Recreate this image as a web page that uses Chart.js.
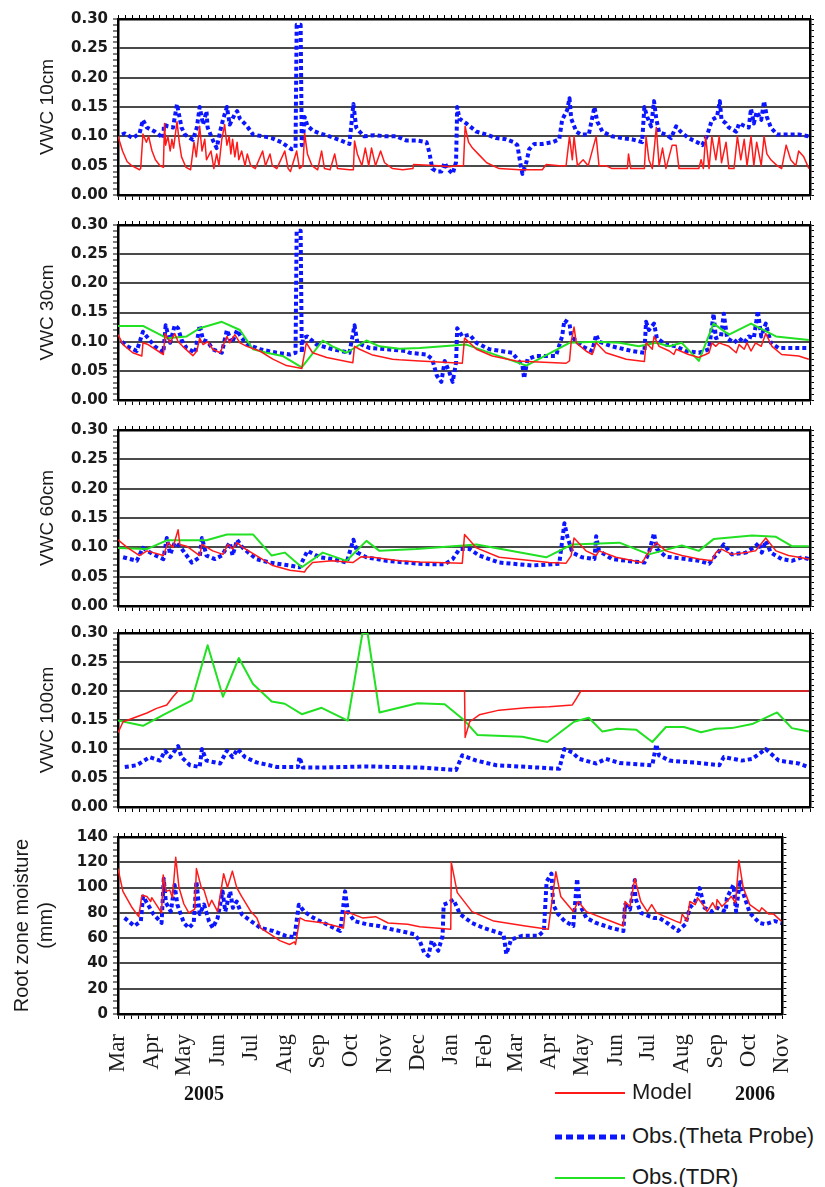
<!DOCTYPE html>
<html>
<head>
<meta charset="utf-8">
<title>Soil water content, 2005-2006</title>
<script src="https://cdn.jsdelivr.net/npm/chart.js@4.4.1/dist/chart.umd.min.js"></script>
<style>
  html, body { margin: 0; padding: 0; background: #fff; }
  #page { position: relative; width: 825px; height: 1187px; overflow: hidden; background: #fff; }
  #page canvas { position: absolute; left: 0; }
  .year { position: absolute; font: bold 20px "Liberation Serif", "Times New Roman", serif; color: #111; transform: translate(-50%, -50%); }
  .legRow { position: absolute; left: 0; width: 825px; height: 30px; }
  .legSwatch { position: absolute; left: 555px; width: 70px; top: 50%; transform: translateY(-50%); }
  .legText { position: absolute; left: 632px; top: 50%; transform: translateY(-52%); font: 22px "Liberation Sans", Arial, sans-serif; color: #1a1a1a; white-space: nowrap; }
</style>
</head>
<body>
<div id="page"></div>
<script>
// Days are counted from 1 March 2005.
const MONTHS = ['Mar','Apr','May','Jun','Jul','Aug','Sep','Oct','Nov','Dec','Jan','Feb','Mar','Apr','May','Jun','Jul','Aug','Sep','Oct','Nov'];
const MONTH_DAYS = [0,31,61,92,122,153,184,214,245,275,306,337,365,396,426,457,487,518,549,579,610];
const YEARS = ['2005', '2006'];
const SERIES_NAMES = ['Model', 'Obs.(Theta Probe)', 'Obs.(TDR)'];
const PANEL_TITLES = ['VWC 10cm', 'VWC 30cm', 'VWC 60cm', 'VWC 100cm', ['Root zone moisture', '(mm)']];

// 10 cm
const model10 = [[0,0.10],[4,0.075],[8,0.057],[12,0.05],[19,0.043],[20,0.045],[22,0.104],[25,0.09],[27,0.10],[30,0.075],[33,0.06],[37,0.05],[40,0.047],[41,0.122],[42,0.085],[44,0.10],[46,0.075],[47.5,0.095],[49,0.08],[52,0.125],[54,0.09],[56,0.065],[60,0.047],[64,0.043],[67,0.09],[69,0.065],[72,0.117],[74,0.075],[76.5,0.095],[78,0.06],[82,0.075],[84.5,0.045],[87,0.07],[89,0.05],[91.5,0.095],[94,0.12],[96,0.085],[98,0.10],[99.5,0.07],[101,0.095],[103,0.065],[105,0.09],[106.5,0.06],[109,0.075],[112,0.05],[114,0.07],[117,0.05],[121,0.045],[127.5,0.075],[130,0.05],[134,0.07],[136,0.05],[140,0.045],[147,0.075],[150,0.045],[152,0.04],[157.5,0.075],[160,0.045],[163,0.05],[164.5,0.105],[167,0.07],[171,0.05],[176,0.043],[179.5,0.075],[182,0.045],[187,0.043],[191,0.07],[193.5,0.045],[204,0.043],[207.5,0.043],[208.5,0.092],[211,0.07],[215,0.05],[218,0.08],[221,0.05],[223.5,0.08],[227,0.05],[231.5,0.075],[235,0.055],[242,0.045],[251,0.043],[260,0.045],[260.5,0.052],[283,0.05],[292,0.048],[298,0.05],[304.5,0.05],[306,0.117],[309,0.09],[312.5,0.08],[318.5,0.068],[325,0.055],[336,0.045],[354,0.043],[374,0.043],[377.5,0.052],[389,0.05],[395,0.05],[398,0.10],[400.5,0.06],[402,0.10],[405,0.05],[410,0.06],[414.5,0.05],[421.5,0.10],[424,0.05],[430,0.05],[435.5,0.045],[449,0.045],[450,0.07],[452,0.045],[464,0.045],[465.5,0.10],[468,0.06],[471,0.045],[474.5,0.115],[477,0.05],[480,0.08],[483,0.045],[488.5,0.085],[492,0.085],[494.5,0.045],[512,0.045],[514,0.06],[516,0.045],[518,0.10],[521,0.045],[523.5,0.10],[527,0.06],[530,0.10],[532,0.055],[536,0.09],[538.5,0.045],[543,0.045],[546,0.10],[549,0.06],[552,0.095],[554.5,0.05],[558,0.10],[560.5,0.05],[563,0.09],[567,0.05],[569.5,0.10],[572,0.07],[575.5,0.06],[581,0.05],[585,0.045],[589,0.085],[593,0.06],[597.5,0.05],[600,0.075],[604.5,0.065],[609,0.045]];
const theta10 = [[3.5,0.103],[6,0.105],[13,0.097],[19,0.105],[22,0.128],[25.5,0.115],[32.5,0.108],[40,0.097],[40.5,0.12],[44,0.117],[48.5,0.115],[52,0.155],[54,0.135],[56,0.115],[59,0.103],[66,0.094],[69.5,0.115],[72,0.15],[75,0.12],[78,0.143],[79,0.115],[83.5,0.094],[87,0.08],[90,0.108],[92.5,0.128],[96,0.15],[98.5,0.12],[103,0.138],[105,0.143],[107.5,0.13],[113.5,0.118],[119,0.103],[127.5,0.10],[135.5,0.097],[144,0.09],[153,0.078],[156.5,0.08],[157.5,0.29],[161,0.29],[162,0.085],[163.5,0.105],[164.5,0.133],[167,0.118],[171.5,0.11],[178,0.105],[186.5,0.10],[195,0.094],[204,0.087],[207.5,0.155],[210,0.115],[213,0.108],[217,0.10],[226,0.102],[236.5,0.10],[245.5,0.10],[254,0.093],[263,0.093],[272,0.09],[274.5,0.072],[277,0.045],[281,0.04],[285,0.04],[288,0.055],[290.5,0.045],[295,0.036],[298,0.056],[299,0.15],[301,0.13],[307,0.122],[316,0.108],[325,0.103],[333.5,0.097],[342,0.095],[349,0.09],[352,0.085],[354.5,0.056],[356.5,0.036],[360,0.056],[362.5,0.078],[367,0.087],[374,0.087],[383,0.09],[389,0.095],[391.5,0.128],[396,0.145],[398,0.165],[399.5,0.13],[404,0.108],[408,0.103],[415,0.103],[420,0.15],[422.5,0.125],[427,0.108],[435.5,0.10],[444.5,0.097],[453,0.095],[462,0.09],[464,0.15],[466.5,0.133],[470,0.117],[472.5,0.16],[474.5,0.13],[477,0.107],[483,0.103],[487.5,0.097],[492,0.117],[496,0.108],[503,0.097],[510.5,0.09],[515,0.085],[519,0.10],[523.5,0.128],[528,0.133],[530.5,0.16],[532,0.128],[536,0.122],[538.5,0.115],[545,0.108],[547.5,0.122],[552,0.118],[556,0.115],[558,0.147],[560.5,0.122],[563,0.142],[567,0.128],[569.5,0.16],[572,0.133],[575.5,0.115],[581,0.103],[589.5,0.103],[600,0.103],[609,0.10]];

// 30 cm
const model30 = [[0,0.112],[4.5,0.095],[13,0.081],[21,0.0755],[22,0.098],[26.5,0.095],[40,0.078],[41.5,0.114],[46,0.098],[50,0.114],[53,0.10],[57,0.092],[66,0.076],[69.5,0.084],[72,0.106],[75,0.095],[79,0.10],[83.5,0.087],[90,0.081],[96,0.109],[98.5,0.098],[103,0.112],[107.5,0.098],[113.5,0.092],[125,0.084],[136.5,0.07],[148.5,0.059],[160,0.055],[162,0.054],[166,0.098],[171.5,0.081],[184,0.073],[207,0.064],[208.5,0.092],[213,0.087],[224.5,0.077],[242,0.07],[248,0.069],[266,0.067],[303.5,0.063],[305.5,0.106],[316,0.087],[330,0.0755],[351,0.067],[395,0.063],[398,0.067],[399.5,0.10],[402,0.125],[404,0.098],[412.5,0.084],[418,0.078],[421.5,0.098],[430,0.081],[448,0.07],[464,0.066],[465.5,0.098],[471,0.087],[472.5,0.109],[477,0.092],[486,0.084],[490,0.078],[492,0.087],[503,0.078],[512,0.073],[518,0.078],[521,0.081],[523.5,0.098],[527,0.092],[530,0.098],[534,0.095],[538.5,0.092],[545,0.081],[547.5,0.095],[552,0.087],[554.5,0.098],[558,0.084],[562,0.098],[567,0.092],[571,0.114],[576.5,0.092],[585,0.078],[600,0.0755],[609,0.07]];
const theta30 = [[3.5,0.10],[8,0.092],[16.5,0.084],[22,0.117],[26.5,0.106],[32.5,0.092],[40,0.081],[42,0.128],[46,0.098],[50,0.128],[53,0.123],[56,0.103],[60.5,0.089],[68,0.081],[72,0.128],[75,0.103],[79,0.10],[83.5,0.087],[91.5,0.081],[96,0.12],[100.5,0.098],[105,0.12],[109,0.106],[114.5,0.095],[125,0.087],[140,0.081],[151.5,0.078],[156.5,0.081],[157.5,0.29],[161,0.29],[162,0.081],[163,0.106],[167,0.109],[175,0.095],[189,0.087],[204,0.081],[208.5,0.128],[211,0.098],[222,0.089],[236.5,0.087],[254,0.084],[257,0.081],[272,0.078],[277,0.07],[281,0.042],[285,0.031],[288,0.067],[292,0.048],[295,0.031],[298,0.064],[299,0.123],[303.5,0.109],[310,0.112],[316,0.098],[327.5,0.087],[347.5,0.081],[356.5,0.059],[358,0.037],[361,0.07],[368.5,0.0755],[386,0.0755],[391.5,0.109],[393.5,0.137],[398,0.131],[399.5,0.109],[409,0.092],[418,0.084],[421.5,0.112],[424,0.10],[435.5,0.092],[453,0.084],[464,0.081],[465.5,0.134],[468,0.12],[472.5,0.131],[475,0.106],[483,0.095],[492,0.092],[500.5,0.084],[512,0.081],[521,0.087],[525,0.148],[527,0.106],[531.5,0.109],[534,0.148],[537,0.106],[543,0.098],[547.5,0.106],[552,0.098],[556,0.109],[560.5,0.106],[564,0.153],[567,0.109],[571,0.131],[575.5,0.098],[582.5,0.089],[594,0.089],[609,0.089]];
const tdr30 = [[0,0.127],[22,0.127],[43,0.106],[60.5,0.109],[72,0.123],[91.5,0.134],[107.5,0.12],[119,0.087],[131,0.081],[145,0.0755],[162,0.056],[180.5,0.102],[189,0.092],[201.5,0.081],[219,0.102],[230.5,0.092],[248,0.088],[266,0.089],[307,0.095],[360,0.059],[398,0.098],[421.5,0.10],[442,0.098],[459,0.092],[474.5,0.098],[486,0.092],[497,0.098],[512,0.067],[525,0.131],[538.5,0.112],[558,0.131],[580,0.109],[609,0.103]];

// 60 cm
const model60 = [[0,0.113],[8,0.10],[19,0.086],[25.5,0.094],[40,0.086],[44,0.108],[48.5,0.10],[53,0.13],[54.5,0.105],[60.5,0.102],[72,0.086],[74,0.105],[83.5,0.094],[92.5,0.088],[97,0.105],[101,0.097],[105,0.108],[110,0.10],[122,0.086],[136.5,0.069],[151.5,0.061],[164.5,0.058],[166,0.063],[171.5,0.074],[189,0.077],[207,0.074],[214.5,0.084],[224.5,0.083],[248,0.077],[266,0.075],[303.5,0.073],[305.5,0.122],[316,0.099],[336,0.083],[380,0.074],[395,0.073],[399.5,0.086],[402,0.116],[412.5,0.094],[421.5,0.086],[424,0.094],[439,0.083],[462,0.074],[466.5,0.088],[474.5,0.108],[483,0.094],[497,0.086],[512,0.08],[523.5,0.077],[527,0.091],[532,0.097],[541,0.088],[553.5,0.091],[562,0.094],[571,0.116],[580,0.094],[591,0.086],[609,0.08]];
const theta60 = [[4.5,0.083],[16.5,0.077],[22,0.099],[31,0.088],[40,0.08],[43,0.116],[46,0.088],[50,0.108],[54.5,0.102],[60.5,0.086],[65,0.074],[72,0.083],[74,0.116],[78,0.086],[85.5,0.08],[91.5,0.086],[98.5,0.108],[101,0.086],[105,0.113],[110,0.099],[122,0.08],[134,0.074],[151.5,0.069],[160,0.066],[167,0.094],[178,0.083],[189,0.08],[201.5,0.074],[207.5,0.113],[211,0.091],[219,0.083],[236.5,0.077],[266,0.072],[277,0.071],[288,0.071],[295,0.08],[301,0.097],[310,0.097],[318.5,0.086],[336,0.074],[365,0.069],[389,0.072],[393.5,0.141],[396,0.119],[400.5,0.091],[409,0.083],[420,0.08],[421.5,0.119],[424,0.094],[435.5,0.08],[453,0.076],[464,0.074],[468,0.091],[472.5,0.124],[475,0.097],[483,0.084],[497,0.081],[512,0.077],[521,0.072],[530,0.094],[534,0.105],[541,0.088],[553.5,0.091],[562,0.102],[565,0.108],[567.5,0.091],[571,0.111],[575.5,0.091],[585,0.08],[594,0.077],[603,0.083],[609,0.08]];
const tdr60 = [[0,0.099],[25.5,0.097],[43,0.112],[78,0.112],[96,0.122],[119,0.122],[135.5,0.086],[147,0.091],[162,0.066],[180.5,0.091],[201.5,0.077],[219,0.111],[230.5,0.094],[263,0.097],[316,0.105],[377.5,0.083],[400.5,0.105],[442,0.108],[468,0.088],[497,0.103],[512,0.094],[525,0.114],[559,0.12],[580,0.118],[594,0.102],[609,0.102]];

// 100 cm
const model100 = [[0,0.128],[4.5,0.147],[13,0.153],[25.5,0.162],[34,0.17],[43,0.176],[48.5,0.19],[53,0.20],[305.5,0.20],[306,0.12],[310,0.147],[318.5,0.159],[336,0.167],[360,0.171],[380,0.173],[400.5,0.176],[404,0.187],[408,0.20],[609,0.20]];
const theta100 = [[6,0.069],[16.5,0.072],[28,0.086],[37,0.08],[41.5,0.097],[46,0.086],[53,0.105],[56,0.086],[63.5,0.072],[72,0.069],[74,0.10],[78,0.08],[90,0.075],[96,0.097],[101,0.086],[105.5,0.10],[112,0.086],[122,0.077],[140,0.069],[158.5,0.069],[160,0.086],[163,0.068],[178,0.068],[219,0.07],[266,0.068],[298,0.064],[303.5,0.089],[316,0.08],[333.5,0.072],[389,0.066],[393.5,0.10],[400.5,0.094],[406.5,0.083],[421.5,0.075],[430,0.083],[442,0.076],[471,0.072],[474.5,0.108],[477,0.089],[486,0.08],[512,0.076],[530,0.072],[534,0.086],[550,0.08],[559,0.083],[571,0.10],[582.5,0.08],[600,0.075],[607,0.07]];
const tdr100 = [[0,0.149],[22,0.14],[40,0.159],[65,0.184],[79,0.279],[92.5,0.19],[106.5,0.257],[119,0.212],[135.5,0.182],[147,0.178],[162,0.16],[179.5,0.171],[202.5,0.149],[215.5,0.30],[220,0.30],[230.5,0.163],[264,0.179],[288,0.177],[305.5,0.149],[317,0.124],[356.5,0.121],[378.5,0.112],[402,0.147],[415,0.154],[427,0.13],[440,0.135],[457,0.133],[471,0.112],[483,0.138],[499,0.138],[514,0.129],[527,0.135],[541,0.136],[559,0.143],[581,0.163],[594,0.136],[609,0.13]];

// Root zone storage (mm)
const modelRZ = [[0,115],[4.5,97],[13,84],[19,77],[22,94],[26.5,93],[30,89],[31,92],[40,80],[41.5,110],[44,97],[47.5,98],[50,92],[53,124],[56,100],[60.5,87],[65,80],[70.5,83],[72,115],[76.5,100],[79,98],[83.5,85],[86,90],[91.5,81],[97,111],[100.5,100],[105,113],[109,100],[113.5,93],[122,81],[127.5,76],[131,68],[140,63],[148.5,58],[157.5,55],[162,57],[163,55],[167,76],[171.5,74],[189,72],[207,68],[208.5,81],[215.5,79],[224.5,76],[236.5,77],[248,72],[266,71],[277,69],[305.5,67],[306,120],[311.5,96],[325,81],[345,73.5],[374,69.6],[395,67],[398,86.5],[402,112.6],[406.5,93],[418,81],[422.5,89],[430,81],[448,75],[464,69.6],[465.5,89],[470,85],[474.5,107],[480,89],[486,81],[490,86.5],[494.5,80],[512,73.5],[516.5,72],[518,79],[522.5,73.5],[525,89],[530,86.5],[532,92],[537,86.5],[541,81],[546,88],[549,83],[550,90.5],[554.5,85],[559,89],[563,93],[567,88],[570,121.7],[574,100],[580,86.5],[589,81],[591,84],[597.5,79],[602,79],[609,73.5]];
const thetaRZ = [[6,76],[15,69.6],[21,73.5],[23,93],[26.5,88],[32.5,79],[40,72],[42,107],[44,88],[48.5,81],[52,102],[54.5,86.5],[60.5,72],[65,68],[69.5,72],[72,105],[75,79],[79,86.5],[83.5,73.5],[87,68],[91.5,76],[96,97],[98.5,81],[103,97],[105.5,84],[109,89],[113.5,79],[122,73.5],[131,68],[142.5,65.7],[154,61.8],[162,60.5],[166,86.5],[171,81],[179.5,76],[189,72],[204,65.7],[208.5,97],[211,81],[217,73.5],[228,71],[239.5,69.6],[251,67],[266,64.4],[272,63],[277,58],[281,48.7],[285,46],[288,58],[294,50],[298,61.8],[299,86.5],[303.5,88],[308,90.5],[314,79],[325,72],[336,68],[354,63],[356.5,47.4],[361,59],[371,61.8],[386,61.8],[391,65.7],[393.5,104.8],[398,111],[399.5,86.5],[404,79],[410,73.5],[418,69.6],[421.5,107],[424,86.5],[430,76],[439,72],[453,68],[464,65.7],[465.5,86.5],[470,82.6],[474.5,106],[475,91.8],[480,80],[492,76],[497,76],[506,71],[514,65.7],[521,71],[525,84],[530,89],[534,99.6],[538.5,84],[545,81],[550,84],[558,81],[559,91.8],[565,102],[567.5,81],[571,106],[574,95.7],[580,80],[589,72],[594,71],[603,73.5],[609,72]];

// ---- drawing -------------------------------------------------------------
const PLOT_LEFT = 118;           // left edge of every plot area
const RIGHT_AXIS_W = 15;         // right frame + tick marks
const PANEL_BOX = [              // plot-area top/bottom on the page
  { top: 17,  bottom: 197 },
  { top: 223, bottom: 402 },
  { top: 428, bottom: 608 },
  { top: 631, bottom: 809 },
  { top: 835, bottom: 1014 }
];
const STYLE = {
  model: { borderColor: '#ff1a1a', borderWidth: 1.5, borderJoinStyle: 'round' },
  theta: { borderColor: '#0b16ff', borderWidth: 4, borderDash: [4, 3], borderJoinStyle: 'round' },
  tdr:   { borderColor: '#22e022', borderWidth: 2, borderJoinStyle: 'round' }
};

const PANELS = [
  { title: PANEL_TITLES[0], max: 0.30, step: 0.01, major: 0.05, digits: 2, model: model10,  theta: theta10,  tdr: null },
  { title: PANEL_TITLES[1], max: 0.30, step: 0.01, major: 0.05, digits: 2, model: model30,  theta: theta30,  tdr: tdr30 },
  { title: PANEL_TITLES[2], max: 0.30, step: 0.01, major: 0.05, digits: 2, model: model60,  theta: theta60,  tdr: tdr60 },
  { title: PANEL_TITLES[3], max: 0.30, step: 0.01, major: 0.05, digits: 2, model: model100, theta: theta100, tdr: tdr100 },
  { title: PANEL_TITLES[4], max: 140,  step: 5,    major: 20,   digits: 0, model: modelRZ,  theta: thetaRZ,  tdr: null }
];

// month ticks plus four minor subdivisions per month
const X_TICKS = [];
MONTH_DAYS.forEach((d, i) => {
  X_TICKS.push(d);
  if (i < MONTH_DAYS.length - 1) {
    const next = MONTH_DAYS[i + 1];
    for (let k = 1; k < 5; k++) X_TICKS.push(d + (next - d) * k / 5);
  }
});
const monthLabel = v => { const i = MONTH_DAYS.indexOf(v); return i >= 0 ? MONTHS[i] : ''; };

function setXTicks(scale) { scale.ticks = X_TICKS.map(v => ({ value: v })); }

function toPoints(pairs) { return pairs.map(p => ({ x: p[0], y: p[1] })); }

const page = document.getElementById('page');

PANELS.forEach((P, idx) => {
  const box = PANEL_BOX[idx];
  const last = idx === PANELS.length - 1;
  const plotH = box.bottom - box.top;
  const bottomAxisH = last ? 70 : 4;
  const padBottom = last ? 4 : 8;
  const canvas = document.createElement('canvas');
  canvas.width = 825;
  canvas.height = 12 + plotH + bottomAxisH + padBottom;
  canvas.style.top = (box.top - 12) + 'px';
  page.appendChild(canvas);

  const nSteps = Math.round(P.max / P.step);
  const yTicks = [];
  for (let k = 0; k <= nSteps; k++) yTicks.push(+(k * P.step).toFixed(4));
  const isMajor = v => Math.abs(v / P.major - Math.round(v / P.major)) < 1e-6;
  const setYTicks = s => { s.ticks = yTicks.map(v => ({ value: v })); };

  const datasets = [
    { label: SERIES_NAMES[0], data: toPoints(P.model), ...STYLE.model }
  ];
  if (P.tdr) datasets.push({ label: SERIES_NAMES[2], data: toPoints(P.tdr), ...STYLE.tdr });
  datasets.push({ label: SERIES_NAMES[1], data: toPoints(P.theta), ...STYLE.theta });

  const frame = { display: true, color: '#000', width: 2.5 };
  const twoLine = Array.isArray(P.title);

  new Chart(canvas, {
    type: 'line',
    data: { datasets },
    options: {
      responsive: false,
      animation: false,
      events: [],
      layout: { autoPadding: false, padding: { top: 8, left: 0, right: 0, bottom: padBottom } },
      elements: { point: { radius: 0 }, line: { tension: 0, fill: false, borderCapStyle: 'butt' } },
      plugins: { legend: { display: false }, tooltip: { enabled: false } },
      scales: {
        x: {
          type: 'linear', position: 'bottom', min: 0, max: 610,
          afterBuildTicks: setXTicks,
          afterFit: s => { s.height = bottomAxisH; },
          ticks: {
            display: last, autoSkip: false, minRotation: 90, maxRotation: 90, padding: 15,
            color: '#1e1e1e', font: { family: "'Liberation Serif', 'Times New Roman', serif", size: 23 },
            callback: v => monthLabel(v)
          },
          grid: { drawOnChartArea: false, tickLength: 5, color: '#000', lineWidth: 1 },
          border: frame
        },
        xTop: {
          type: 'linear', position: 'top', min: 0, max: 610,
          afterBuildTicks: setXTicks,
          afterFit: s => { s.height = 4; },
          ticks: { display: false },
          grid: { drawOnChartArea: false, tickLength: 4, color: '#000', lineWidth: 1 },
          border: frame
        },
        y: {
          type: 'linear', position: 'left', min: 0, max: P.max,
          afterBuildTicks: setYTicks,
          afterFit: s => { s.width = PLOT_LEFT; },
          ticks: {
            autoSkip: false, padding: 5, color: '#1a1a1a',
            font: { family: "'DejaVu Sans', sans-serif", size: 15, weight: 'bold' },
            callback: v => isMajor(v) ? v.toFixed(P.digits) : ''
          },
          grid: {
            color: c => (c.tick && isMajor(c.tick.value)) ? '#4a4a4a' : 'rgba(0,0,0,0)',
            lineWidth: 2, tickColor: '#000', tickWidth: 1, tickLength: 5
          },
          border: frame,
          title: {
            display: true, text: P.title, color: '#1a1a1a',
            font: { family: "'Liberation Sans', Arial, sans-serif", size: twoLine ? 20 : 19, lineHeight: 1.2 },
            padding: { top: twoLine ? 10 : 36, bottom: 0 }
          }
        },
        yRight: {
          type: 'linear', position: 'right', min: 0, max: P.max,
          afterBuildTicks: setYTicks,
          afterFit: s => { s.width = RIGHT_AXIS_W; },
          ticks: { display: false },
          grid: { drawOnChartArea: false, tickLength: 4, color: '#000', lineWidth: 1 },
          border: frame
        }
      }
    }
  });
});

// year captions under the month axis
[[YEARS[0], 204], [YEARS[1], 755]].forEach(([txt, x]) => {
  const el = document.createElement('div');
  el.className = 'year';
  el.textContent = txt;
  el.style.left = x + 'px';
  el.style.top = '1093px';
  page.appendChild(el);
});

// legend
const LEGEND_ROWS = [
  { name: SERIES_NAMES[0], y: 1093, css: 'height:2px;background:' + STYLE.model.borderColor },
  { name: SERIES_NAMES[1], y: 1137, css: 'height:5px;background:repeating-linear-gradient(90deg,' + STYLE.theta.borderColor + ' 0 7px, transparent 7px 11px)' },
  { name: SERIES_NAMES[2], y: 1178, css: 'height:2px;background:' + STYLE.tdr.borderColor }
];
LEGEND_ROWS.forEach(r => {
  const row = document.createElement('div');
  row.className = 'legRow';
  row.style.top = (r.y - 15) + 'px';
  const sw = document.createElement('div');
  sw.className = 'legSwatch';
  sw.style.cssText += r.css;
  const tx = document.createElement('div');
  tx.className = 'legText';
  tx.textContent = r.name;
  row.appendChild(sw);
  row.appendChild(tx);
  page.appendChild(row);
});
</script>
</body>
</html>
